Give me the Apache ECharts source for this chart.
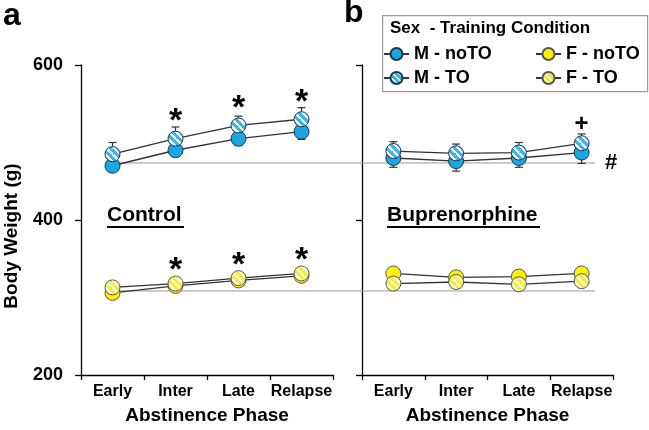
<!DOCTYPE html>
<html>
<head>
<meta charset="utf-8">
<script src="https://cdn.jsdelivr.net/npm/echarts@6/dist/echarts.min.js"></script>
<style>
  html, body { margin: 0; padding: 0; background: #fff; }
  #chart { width: 649px; height: 430px; }
</style>
</head>
<body>
<div id="chart"></div>
<script>
// abstinence phases (categories)
const phases = ['Early', 'Inter', 'Late', 'Relapse'];

// Control (panel a) body weights, g
const ctrlMnoTO = [470, 490, 505, 514];
const ctrlMTO = [485, 505, 522, 530];
const ctrlFnoTO = [306, 315, 322, 328];
const ctrlFTO = [313, 318, 325, 331];

// Buprenorphine (panel b) body weights, g
const bupMnoTO = [480, 476, 480, 487];
const bupMTO = [489, 486, 487, 499];
const bupFnoTO = [331, 326, 327, 331];
const bupFTO = [318, 320, 317, 321];

// SEM (only one side is drawn in the figure)
const ctrlMnoTOErr = [6, 7, 9, 10];
const ctrlMTOErr = [15, 15, 12, 15];
const bupMnoTOErr = [12, 13, 12, 14];
const bupMTOErr = [12, 12, 13, 12];
const femErr = [3, 3, 3, 3];

// significance marks
const ctrlSig = ['', '*', '*', '*'];
const bupSig = ['', '', '', '+'];

// baseline reference weights (male, female)
const refWeights = [476, 314];

const yMin = 200, yMax = 600, yStep = 200;

const FONT = 'Arial, "Liberation Sans", sans-serif';
const BLUE = '#1AA7E1';
const YELLOW = '#FFF200';
const EDGE = '#1d3550';
const LINE = '#333';
const SYM = 15;

// stripes "\" ; series symbols are drawn in a unit path scaled by SYM/2,
// so the pattern is shrunk back (legend icons are not scaled)
function hatch(base, stripe, period, pathScale) {
  const n = 48;
  const c = document.createElement('canvas');
  c.width = n; c.height = n;
  const g = c.getContext('2d');
  g.fillStyle = base;
  g.fillRect(0, 0, n, n);
  g.strokeStyle = stripe;
  g.lineWidth = 15;
  g.beginPath();
  for (let k = -n; k <= n; k += n) {
    g.moveTo(k, 0);
    g.lineTo(k + n, n);
  }
  g.stroke();
  const s = period / n / pathScale;
  return { image: c, repeat: 'repeat', scaleX: s, scaleY: s };
}

const blueHatch = hatch('#3DB4E8', '#ffffff', 7.5, SYM / 2);
const yellowHatch = hatch('#F0EC48', '#FFFFD8', 7.5, SYM / 2);
const blueHatchLeg = hatch('#3DB4E8', '#ffffff', 6, 1);
const yellowHatchLeg = hatch('#F0EC48', '#FFFFD8', 6, 1);

function lineSeries(name, xi, values, fill, edge, sig, sigDist) {
  return {
    name: name,
    type: 'line',
    xAxisIndex: xi,
    yAxisIndex: xi,
    symbol: 'circle',
    symbolSize: SYM,
    z: 3,
    lineStyle: { color: LINE, width: 1.3 },
    itemStyle: { color: fill, borderColor: edge, borderWidth: 1 },
    emphasis: { disabled: true },
    data: values.map(function (v, i) {
      const item = { value: v };
      if (sig && sig[i]) {
        item.label = {
          show: true,
          position: 'top',
          distance: sig[i] === '*' ? sigDist : -1,
          formatter: sig[i],
          color: '#000',
          fontFamily: FONT,
          fontWeight: 'bold',
          fontSize: sig[i] === '*' ? 34 : 24
        };
      }
      return item;
    })
  };
}

function errSeries(xi, means, errs, dir) {
  return {
    type: 'custom',
    xAxisIndex: xi,
    yAxisIndex: xi,
    z: 2,
    silent: true,
    renderItem: function (params, api) {
      const x = api.value(0), m = api.value(1), e = api.value(2);
      const p0 = api.coord([x, m]);
      const p1 = api.coord([x, m + dir * e]);
      const st = { stroke: LINE, lineWidth: 1.2 };
      return {
        type: 'group',
        children: [
          { type: 'line', shape: { x1: p0[0], y1: p0[1], x2: p1[0], y2: p1[1] }, style: st },
          { type: 'line', shape: { x1: p1[0] - 4, y1: p1[1], x2: p1[0] + 4, y2: p1[1] }, style: st }
        ]
      };
    },
    data: means.map(function (m, i) { return [i, m, errs[i]]; })
  };
}

// reference lines run across both panels
const refStart = 24, refEnd = 514;

const gridTop = 65, gridH = 316;

function xAxis(gi) {
  return {
    type: 'category',
    gridIndex: gi,
    data: phases,
    boundaryGap: true,
    axisLine: { lineStyle: { color: '#000', width: 1.3 } },
    axisTick: { show: true, length: 5, lineStyle: { color: '#000', width: 1.3 } },
    axisLabel: { interval: 0, color: '#000', fontFamily: FONT, fontWeight: 'bold', fontSize: 16, margin: 9 },
    name: 'Abstinence Phase',
    nameLocation: 'middle',
    nameGap: 31,
    nameTextStyle: { color: '#000', fontFamily: FONT, fontWeight: 'bold', fontSize: 19 }
  };
}

function yAxis(gi, labels) {
  return {
    type: 'value',
    gridIndex: gi,
    min: yMin,
    max: yMax,
    interval: yStep,
    splitLine: { show: false },
    axisLine: { show: true, lineStyle: { color: '#000', width: 1.3 } },
    axisTick: { show: true, length: 6, lineStyle: { color: '#000', width: 1.3 } },
    axisLabel: { show: labels, color: '#000', fontFamily: FONT, fontWeight: 'bold', fontSize: 18, margin: 18 }
  };
}

const chart = echarts.init(document.getElementById('chart'), null, { renderer: 'canvas' });

const legendText = { color: '#000', fontFamily: FONT, fontWeight: 'bold', fontSize: 18 };

const option = {
  animation: false,
  backgroundColor: '#fff',
  grid: [
    { left: 81, top: gridTop, width: 252, height: gridH },
    { left: 362, top: gridTop, width: 251, height: gridH },
    { left: 81, top: gridTop, width: 532, height: gridH }
  ],
  xAxis: [
    xAxis(0),
    xAxis(1),
    { type: 'value', gridIndex: 2, min: 0, max: 532, show: false }
  ],
  yAxis: [
    yAxis(0, true),
    yAxis(1, false),
    { type: 'value', gridIndex: 2, min: yMin, max: yMax, show: false }
  ],
  legend: [
    {
      data: ['M - noTO', { name: 'M - TO', itemStyle: { color: blueHatchLeg } }],
      orient: 'vertical',
      left: 383,
      top: 45,
      itemWidth: 25,
      itemHeight: 15,
      itemGap: 6,
      padding: 0,
      selectedMode: false,
      textStyle: legendText
    },
    {
      data: ['F - noTO', { name: 'F - TO', itemStyle: { color: yellowHatchLeg } }],
      orient: 'vertical',
      left: 535,
      top: 45,
      itemWidth: 25,
      itemHeight: 15,
      itemGap: 6,
      padding: 0,
      selectedMode: false,
      textStyle: legendText
    }
  ],
  graphic: [
    { type: 'rect', left: 382, top: 15, z: -1,
      shape: { width: 265, height: 76 },
      style: { fill: '#fff', stroke: '#9a9a9a', lineWidth: 1.2 } },
    { type: 'text', left: 390, top: 20,
      style: { text: 'Sex  - Training Condition', fill: '#000', font: 'bold 17px ' + FONT } },
    { type: 'text', left: 3, top: 0,
      style: { text: 'a', fill: '#000', font: 'bold 32px ' + FONT } },
    { type: 'text', left: 344, top: -3,
      style: { text: 'b', fill: '#000', font: 'bold 32px ' + FONT } },
    { type: 'text', x: 12, y: 236, rotation: Math.PI / 2,
      style: { text: 'Body Weight (g)', fill: '#000', font: 'bold 19px ' + FONT, align: 'center', verticalAlign: 'middle' } },
    { type: 'text', left: 107, top: 205,
      style: { text: 'Control', fill: '#000', font: 'bold 21px ' + FONT } },
    { type: 'rect', left: 107, top: 226, shape: { width: 77, height: 2 }, style: { fill: '#000' } },
    { type: 'text', left: 387, top: 205,
      style: { text: 'Buprenorphine', fill: '#000', font: 'bold 21px ' + FONT } },
    { type: 'rect', left: 387, top: 226, shape: { width: 153, height: 2 }, style: { fill: '#000' } }
  ],
  series: [
    // reference lines
    {
      type: 'line', xAxisIndex: 2, yAxisIndex: 2, symbol: 'none', z: 1, silent: true,
      lineStyle: { color: '#9a9a9a', width: 1 },
      endLabel: { show: true, formatter: '#', distance: 10, color: '#000', fontFamily: FONT, fontWeight: 'bold', fontSize: 22 },
      data: [[refStart, refWeights[0]], [refEnd, refWeights[0]]]
    },
    {
      type: 'line', xAxisIndex: 2, yAxisIndex: 2, symbol: 'none', z: 1, silent: true,
      lineStyle: { color: '#9a9a9a', width: 1 },
      data: [[refStart, refWeights[1]], [refEnd, refWeights[1]]]
    },
    // error bars
    errSeries(0, ctrlMnoTO, ctrlMnoTOErr, -1),
    errSeries(0, ctrlMTO, ctrlMTOErr, 1),
    errSeries(0, ctrlFnoTO, femErr, -1),
    errSeries(0, ctrlFTO, femErr, 1),
    errSeries(1, bupMnoTO, bupMnoTOErr, -1),
    errSeries(1, bupMTO, bupMTOErr, 1),
    errSeries(1, bupFnoTO, femErr, 1),
    errSeries(1, bupFTO, femErr, -1),
    // panel a
    lineSeries('M - noTO', 0, ctrlMnoTO, BLUE, EDGE),
    lineSeries('M - TO', 0, ctrlMTO, blueHatch, EDGE, ctrlSig, -8),
    lineSeries('F - noTO', 0, ctrlFnoTO, YELLOW, '#555'),
    lineSeries('F - TO', 0, ctrlFTO, yellowHatch, '#555', ctrlSig, -12),
    // panel b
    lineSeries('M - noTO', 1, bupMnoTO, BLUE, EDGE),
    lineSeries('M - TO', 1, bupMTO, blueHatch, EDGE, bupSig, 0),
    lineSeries('F - noTO', 1, bupFnoTO, YELLOW, '#555'),
    lineSeries('F - TO', 1, bupFTO, yellowHatch, '#555')
  ]
};

chart.setOption(option);
</script>
</body>
</html>
